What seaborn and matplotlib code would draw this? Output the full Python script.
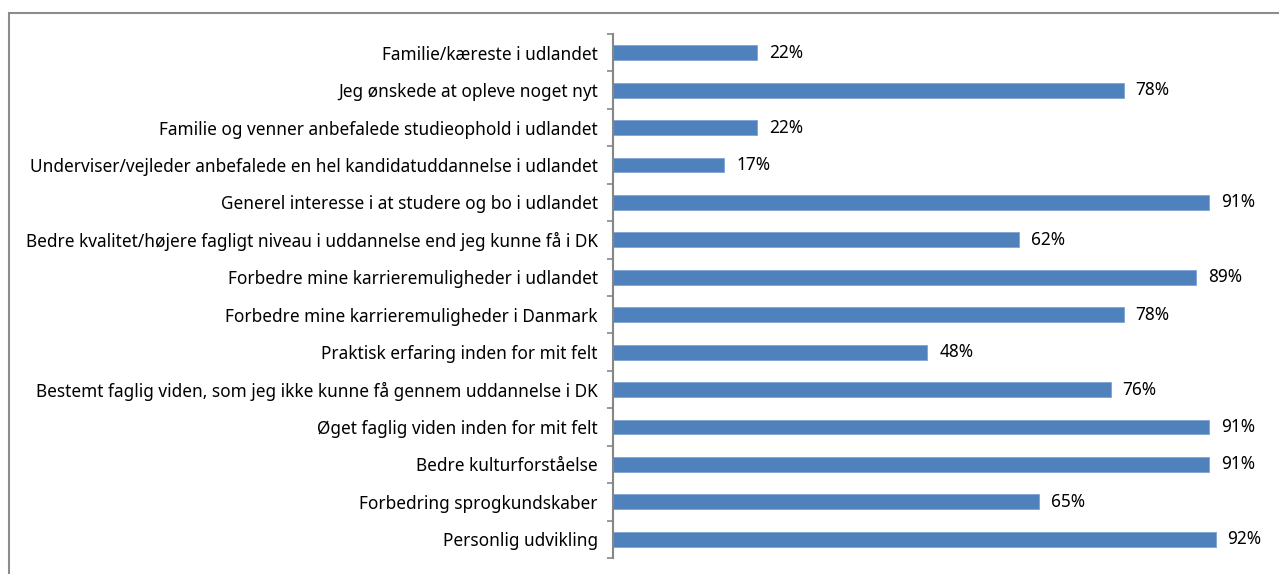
import pandas as pd
import matplotlib.pyplot as plt
import seaborn as sns
from matplotlib.patches import Rectangle
import numpy as np

# Categories (top to bottom) and share of respondents
reasons = [
    "Familie/kæreste i udlandet",
    "Jeg ønskede at opleve noget nyt",
    "Familie og venner anbefalede studieophold i udlandet",
    "Underviser/vejleder anbefalede en hel kandidatuddannelse i udlandet",
    "Generel interesse i at studere og bo i udlandet",
    "Bedre kvalitet/højere fagligt niveau i uddannelse end jeg kunne få i DK",
    "Forbedre mine karrieremuligheder i udlandet",
    "Forbedre mine karrieremuligheder i Danmark",
    "Praktisk erfaring inden for mit felt",
    "Bestemt faglig viden, som jeg ikke kunne få gennem uddannelse i DK",
    "Øget faglig viden inden for mit felt",
    "Bedre kulturforståelse",
    "Forbedring sprogkundskaber",
    "Personlig udvikling",
]
shares = [22, 78, 22, 17, 91, 62, 89, 78, 48, 76, 91, 91, 65, 92]

df = pd.DataFrame({"reason": reasons, "share": np.array(shares) / 100})

sns.set_theme(style="white")
plt.rcParams['font.family'] = ['Noto Sans', 'DejaVu Sans']

W, H = 1279, 574
fig = plt.figure(figsize=(W / 100, H / 100), dpi=100)
ax = fig.add_axes([613 / W, 1 - 558 / H, 655 / W, 524 / H])

sns.barplot(data=df, x="share", y="reason", orient="h", color="#4F81BD",
            width=0.4, saturation=1, edgecolor="#7FA3D3", linewidth=0.6, ax=ax)

ax.set_xlim(0, 1)
ax.set_ylim(len(reasons) - 0.5, -0.5)
ax.set_xlabel("")
ax.set_ylabel("")
ax.set_xticks([])

for s in ["top", "right", "bottom"]:
    ax.spines[s].set_visible(False)
ax.spines["left"].set_color("#868686")
ax.spines["left"].set_linewidth(1.5)

ax.tick_params(axis="y", which="major", length=0, pad=11, labelsize=12.4, labelcolor="black")
ax.set_yticks(np.arange(len(reasons) + 1) - 0.5, minor=True)
ax.tick_params(axis="y", which="minor", length=4, width=1.2, color="#868686", left=True)

for i, v in enumerate(df["share"]):
    ax.text(v + 0.018, i, f"{int(round(v * 100))}%", va="center", ha="left",
            fontsize=12.4, color="black")

# outer chart frame (bottom and right edges fall outside the picture)
fig.patches.append(Rectangle((9 / W, -0.1), 1.2, 1.1 - 13 / H, transform=fig.transFigure,
                             fill=False, edgecolor="#8C8C8C", linewidth=1.5))

fig.savefig("out.png", dpi=100)
